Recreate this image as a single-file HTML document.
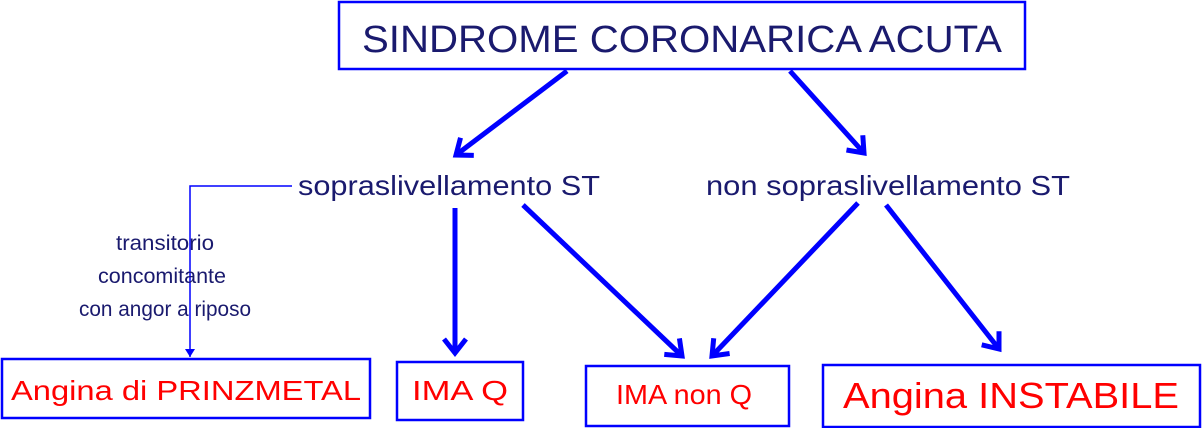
<!DOCTYPE html>
<html><head><meta charset="utf-8"><style>
html,body{margin:0;padding:0;background:#fff;}
svg{display:block;}
text{font-family:"Liberation Sans",sans-serif;}
</style></head><body>
<svg width="1203" height="428" viewBox="0 0 1203 428" xmlns="http://www.w3.org/2000/svg">
<defs>
<marker id="ah" markerUnits="userSpaceOnUse" markerWidth="30" markerHeight="30" refX="18" refY="15" orient="auto" viewBox="0 0 30 30">
<path d="M4 4 L18 15 L4 26" fill="none" stroke="#0000ff" stroke-width="5" stroke-linecap="butt"/>
</marker>
<marker id="as" markerUnits="userSpaceOnUse" markerWidth="12" markerHeight="12" refX="10" refY="6" orient="auto" viewBox="0 0 12 12">
<path d="M2 1 L10 6 L2 11 Z" fill="#0000ff"/>
</marker>
</defs>
<g fill="none" stroke="#0000ff" stroke-width="2.5">
<rect x="339" y="2" width="686" height="67"/>
<rect x="2" y="359" width="368" height="59"/>
<rect x="397" y="362" width="126" height="58"/>
<rect x="586" y="366" width="203" height="60"/>
<rect x="823" y="365" width="377" height="62"/>
</g>
<text x="682" y="52" font-size="38" fill="#1a1a6e" text-anchor="middle" textLength="640" lengthAdjust="spacingAndGlyphs">SINDROME CORONARICA ACUTA</text>
<g stroke="#0000ff" stroke-width="5" fill="none" marker-end="url(#ah)">
<line x1="567" y1="71" x2="456" y2="155"/>
<line x1="790" y1="71" x2="864" y2="153"/>
<line x1="455" y1="208" x2="455" y2="353"/>
<line x1="523" y1="205" x2="682" y2="356"/>
<line x1="858" y1="203" x2="712" y2="356"/>
<line x1="886" y1="205" x2="999" y2="349"/>
</g>
<polyline points="292,186 190,186 190,357" fill="none" stroke="#0000ff" stroke-width="1.5" marker-end="url(#as)"/>
<text x="298" y="195" font-size="28" fill="#1a1a6e" textLength="302" lengthAdjust="spacingAndGlyphs">sopraslivellamento ST</text>
<text x="706" y="195" font-size="28" fill="#1a1a6e" textLength="364" lengthAdjust="spacingAndGlyphs">non sopraslivellamento ST</text>
<g font-size="21" fill="#1a1a6e" text-anchor="middle">
<text x="165" y="250" textLength="98" lengthAdjust="spacingAndGlyphs">transitorio</text>
<text x="162" y="283" textLength="128" lengthAdjust="spacingAndGlyphs">concomitante</text>
<text x="165" y="316" textLength="172" lengthAdjust="spacingAndGlyphs">con angor a riposo</text>
</g>
<g fill="#ff0000">
<text x="186" y="400" font-size="28" text-anchor="middle" textLength="350" lengthAdjust="spacingAndGlyphs">Angina di PRINZMETAL</text>
<text x="460" y="400" font-size="28" text-anchor="middle" textLength="96" lengthAdjust="spacingAndGlyphs">IMA Q</text>
<text x="684" y="404" font-size="28" text-anchor="middle" textLength="136" lengthAdjust="spacingAndGlyphs">IMA non Q</text>
<text x="1011" y="408" font-size="36" text-anchor="middle" textLength="336" lengthAdjust="spacingAndGlyphs">Angina INSTABILE</text>
</g>
</svg>
</body></html>
